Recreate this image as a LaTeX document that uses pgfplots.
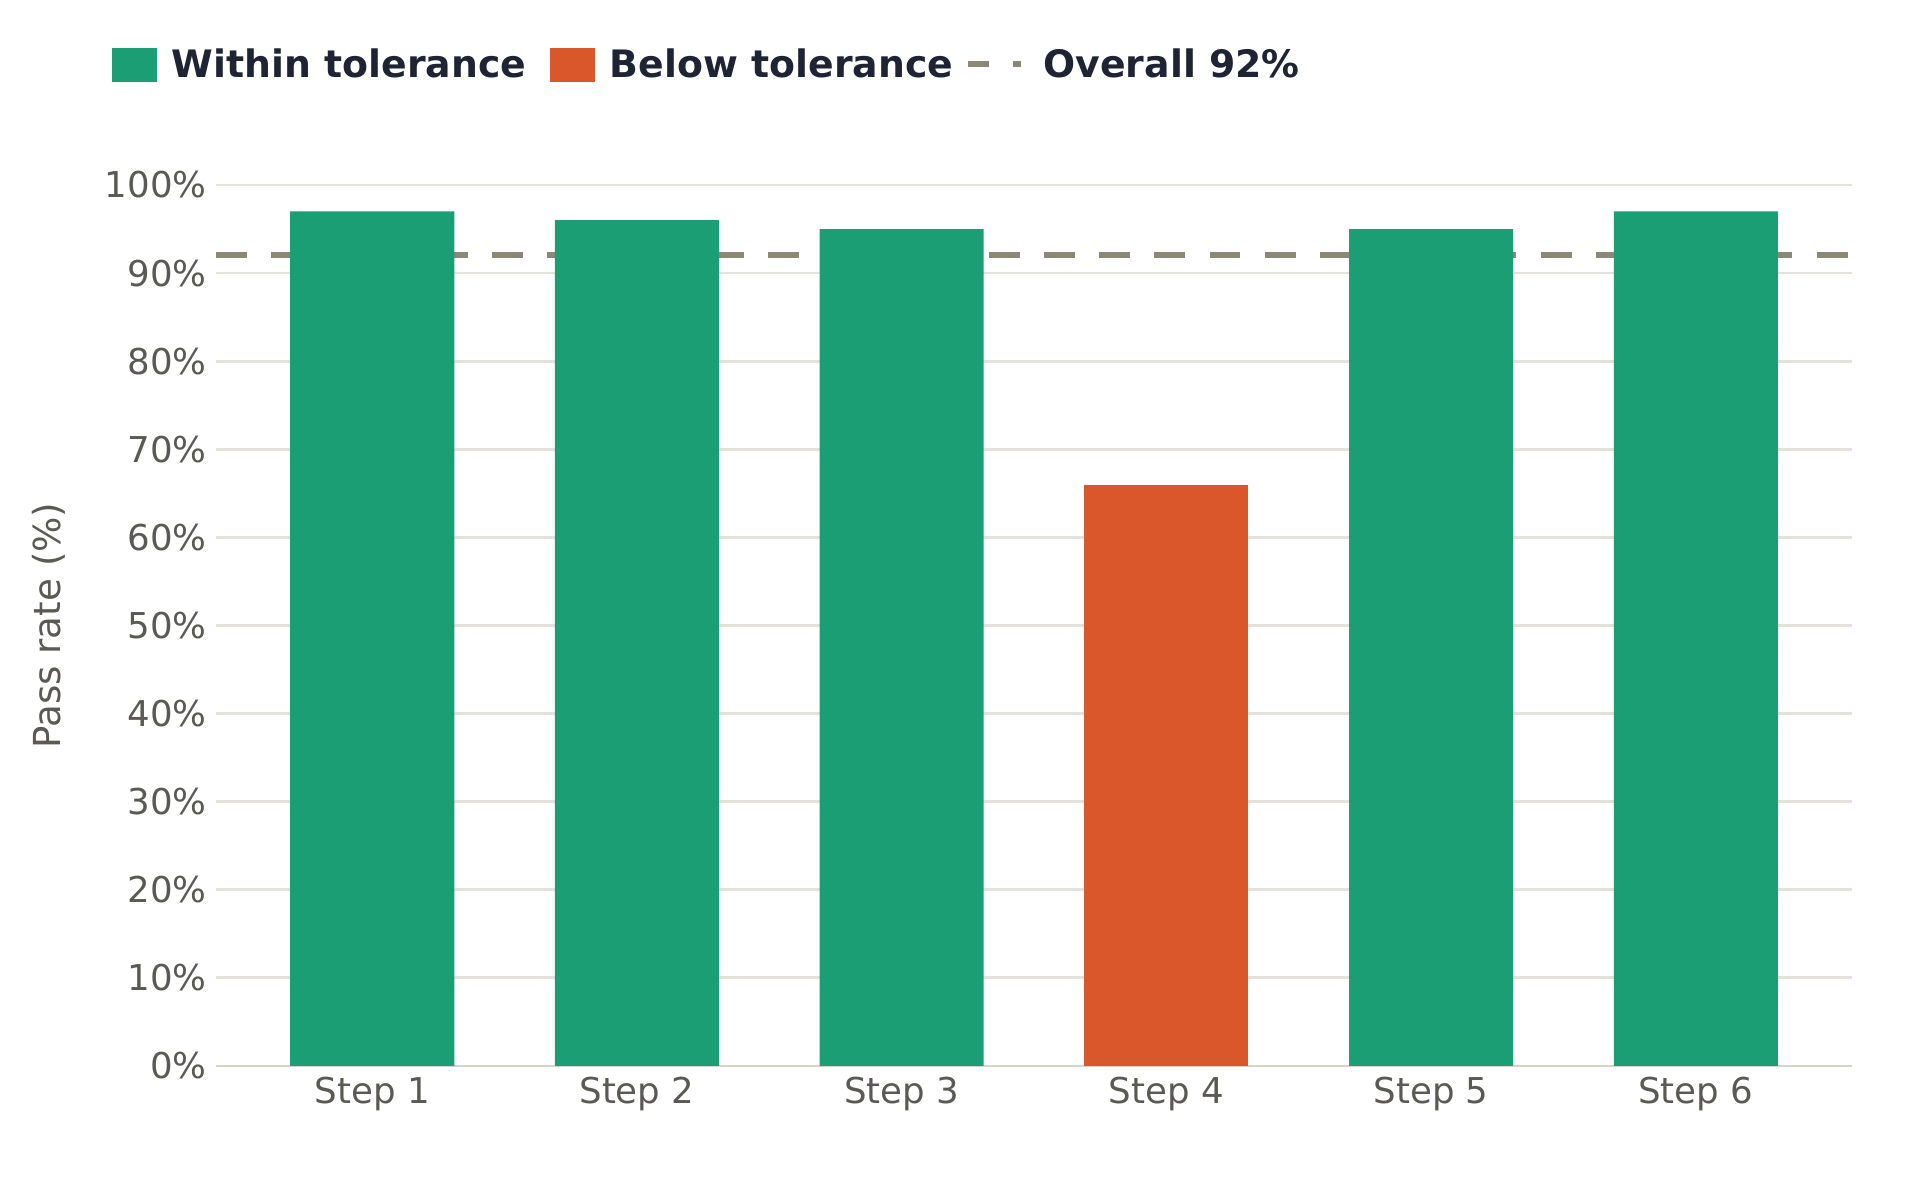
\documentclass[border=0pt]{standalone}
\usepackage{fontspec}
\setmainfont{DejaVu Sans}
\usepackage{pgfplots}
\pgfplotsset{compat=1.18}

\definecolor{cWithin}{HTML}{1B9E73}
\definecolor{cBelow}{HTML}{DA572B}
\definecolor{cOverall}{HTML}{8B8878}
\definecolor{cGrid}{HTML}{E3E1DA}
\definecolor{cBase}{HTML}{D7D3C8}
\definecolor{cTick}{HTML}{5A5954}
\definecolor{cLeg}{HTML}{1E2433}

\begin{document}
\begin{tikzpicture}
\path[use as bounding box] (0,0) rectangle (954pt,596pt);
\begin{axis}[
    at={(108pt,63pt)}, anchor=south west,
    scale only axis,
    width=818pt, height=440.5pt,
    xmin=-0.59, xmax=5.59,
    ymin=0, ymax=100,
    xtick={0,1,2,3,4,5},
    xticklabels={Step 1,Step 2,Step 3,Step 4,Step 5,Step 6},
    ytick={0,10,...,100},
    yticklabel={\pgfmathprintnumber{\tick}\%},
    /pgf/number format/assume math mode=true,
    axis x line*=bottom,
    axis y line*=left,
    y axis line style={draw=none},
    x axis line style={draw=cBase, line width=1.1pt},
    major tick length=0pt,
    tick style={draw=none},
    ymajorgrids,
    grid style={cGrid, line width=1.4pt},
    ticklabel style={font=\fontsize{17.8}{20}\selectfont, text=cTick, inner sep=0pt},
    x tick label style={yshift=-5.5pt},
    y tick label style={xshift=-4.5pt},
    ylabel={Pass rate (\%)},
    every axis y label/.style={at={(axis description cs:-0.10208,0.5)}, rotate=90, anchor=center},
    label style={font=\fontsize{18.6}{21}\selectfont, text=cTick},
    legend columns=3,
    legend style={draw=none, fill=none, inner sep=0pt, outer sep=0pt,
        at={(0,1)}, anchor=west, xshift=-52pt, yshift=60.25pt,
        font=\color{cLeg}\bfseries\fontsize{18.9}{22}\selectfont,
        nodes={inner sep=0pt},
        /tikz/every even column/.append style={column sep=12pt}},
]
% overall pass rate
\addplot[forget plot, cOverall, line width=3pt, dash pattern=on 15.4pt off 12.2pt]
    coordinates {(-0.59,92) (5.59,92)};
% steps within tolerance
\addplot[forget plot, ybar, bar width=0.62, bar shift=0pt, fill=cWithin, draw=none]
    coordinates {(0,97) (1,96) (2,95) (4,95) (5,97)};
% step below tolerance
\addplot[forget plot, ybar, bar width=0.62, bar shift=0pt, fill=cBelow, draw=none]
    coordinates {(3,66)};

\addlegendimage{legend image code/.code={\fill[cWithin] (0pt,-8.25pt) rectangle (22pt,8.25pt); \path (29.5pt,0pt);}}
\addlegendimage{legend image code/.code={\fill[cBelow] (0pt,-8.25pt) rectangle (22pt,8.25pt); \path (29.5pt,0pt);}}
\addlegendimage{legend image code/.code={\draw[overlay, cOverall, line width=3pt] (-4.8pt,0pt) -- (5.7pt,0pt) (17.7pt,0pt) -- (21.7pt,0pt); \path (0pt,0pt) (32.8pt,0pt);}}
\legend{Within tolerance, Below tolerance, Overall 92\%}
\end{axis}
\end{tikzpicture}
\end{document}
